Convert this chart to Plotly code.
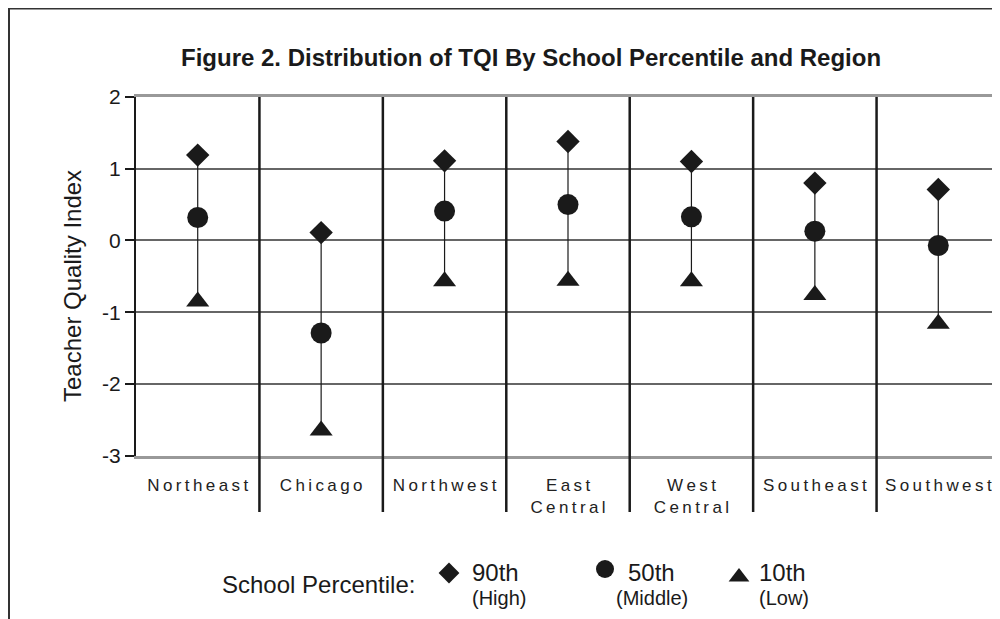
import plotly.graph_objects as go

# ---------------- data ----------------
regions = ["Northeast", "Chicago", "Northwest", "East<br>Central",
           "West<br>Central", "Southeast", "Southwest"]
p90_high = [1.19, 0.11, 1.11, 1.38, 1.10, 0.80, 0.71]
p50_mid = [0.32, -1.29, 0.41, 0.50, 0.33, 0.13, -0.07]
p10_low = [-0.85, -2.65, -0.57, -0.56, -0.57, -0.76, -1.16]
y_ticks = [2, 1, 0, -1, -2, -3]

title_text = "Figure 2. Distribution of TQI By School Percentile and Region"
y_title = "Teacher Quality Index"
legend_title = "School Percentile:"
legend_main = ["90th", "50th", "10th"]
legend_sub = ["(High)", "(Middle)", "(Low)"]

# ---------------- layout constants (screen px; page has an 8px body margin) ----------------
OFF = 8
W, H = 1000 - OFF, 619 - OFF
SL, SR, ST, SB = 136, 1000, 97, 455.7          # main plot area on screen
INK = "#1a1a1a"
FONT = "Liberation Sans, Arial, sans-serif"
NCAT = len(regions)


def px(xs):  # screen x -> paper (full figure)
    return (xs - OFF) / W


def py(ys):  # screen y -> paper (full figure)
    return (H + OFF - ys) / H


def spaced(label):
    return "<br>".join("\u2009".join(line) for line in label.split("<br>"))


xidx = list(range(NCAT))

fig = go.Figure()

# stems
sx, sy = [], []
for i, hi, lo in zip(xidx, p90_high, p10_low):
    sx += [i, i, None]
    sy += [hi, lo, None]
fig.add_trace(go.Scatter(x=sx, y=sy, mode="lines",
                         line=dict(color=INK, width=1.2), hoverinfo="skip",
                         showlegend=False))

fig.add_trace(go.Scatter(x=xidx, y=p90_high, mode="markers", name="90th",
                         marker=dict(symbol="diamond", size=18, color=INK),
                         showlegend=False))
fig.add_trace(go.Scatter(x=xidx, y=p50_mid, mode="markers", name="50th",
                         marker=dict(symbol="circle", size=21, color=INK),
                         showlegend=False))
fig.add_trace(go.Scatter(x=xidx, y=p10_low, mode="markers", name="10th",
                         marker=dict(symbol="triangle-up", size=20, color=INK),
                         showlegend=False))

# legend key markers on an invisible full-figure subplot measured in screen px
leg_x = [449, 605, 739]
leg_y = [573, 569, 577]
leg_sym = ["diamond", "circle", "triangle-up"]
leg_size = [16, 18, 18]
for lx, ly, sym, sz in zip(leg_x, leg_y, leg_sym, leg_size):
    fig.add_trace(go.Scatter(x=[lx], y=[ly], mode="markers", xaxis="x2", yaxis="y2",
                             marker=dict(symbol=sym, size=sz, color=INK),
                             showlegend=False, hoverinfo="skip"))

shapes = []
# category separators
for b in range(NCAT - 1):
    shapes.append(dict(type="line", xref="x", yref="paper", x0=b + 0.5, x1=b + 0.5,
                       y0=py(512), y1=py(ST), line=dict(color=INK, width=2.5),
                       layer="above"))
# outer frame
shapes.append(dict(type="rect", xref="paper", yref="paper",
                   x0=px(9), x1=px(1030), y0=py(650), y1=py(8.5),
                   line=dict(color="#333333", width=2)))

annotations = [
    dict(text="<b>" + title_text + "</b>", xref="paper", yref="paper",
         x=px(531), y=py(57), showarrow=False, xanchor="center", yanchor="middle",
         font=dict(size=24, color=INK, family=FONT)),
    dict(text=y_title, xref="paper", yref="paper", x=px(72), y=py(286),
         showarrow=False, textangle=-90, xanchor="center", yanchor="middle",
         font=dict(size=24, color=INK, family=FONT)),
    dict(text=legend_title, xref="paper", yref="paper", x=px(318), y=py(584),
         showarrow=False, xanchor="center", yanchor="middle",
         font=dict(size=24, color=INK, family=FONT)),
]
main_x = [470, 626, 757]
sub_x = [470, 614, 757]
for t, xm in zip(legend_main, main_x):
    annotations.append(dict(text=t, xref="paper", yref="paper", x=px(xm), y=py(572),
                            showarrow=False, xanchor="left", yanchor="middle",
                            font=dict(size=24, color=INK, family=FONT)))
for t, xs in zip(legend_sub, sub_x):
    annotations.append(dict(text=t, xref="paper", yref="paper", x=px(xs), y=py(598),
                            showarrow=False, xanchor="left", yanchor="middle",
                            font=dict(size=20, color=INK, family=FONT)))

fig.update_layout(
    width=W, height=H,
    margin=dict(l=0, r=0, t=0, b=0, autoexpand=False),
    paper_bgcolor="white", plot_bgcolor="rgba(0,0,0,0)",
    font=dict(family=FONT, color=INK),
    showlegend=False,
    shapes=shapes, annotations=annotations,
    xaxis=dict(domain=[px(SL), px(SR)], anchor="y",
               range=[-0.5, NCAT - 0.5], tickmode="array",
               tickvals=xidx, ticktext=[spaced(r) for r in regions],
               tickfont=dict(size=17, color="#222222", family=FONT),
               ticks="", ticklabelstandoff=12,
               showgrid=False, zeroline=False,
               showline=True, mirror=True, linecolor="#999999", linewidth=3),
    yaxis=dict(domain=[py(SB), py(ST)], anchor="x",
               range=[-3, 2], tickvals=y_ticks, ticktext=[str(v) for v in y_ticks],
               tickfont=dict(size=21, color=INK, family=FONT),
               ticks="outside", ticklen=9, tickwidth=1.5, tickcolor=INK,
               showgrid=True, gridcolor="#666666", gridwidth=1.5,
               zeroline=False, showline=True, linecolor=INK, linewidth=2),
    xaxis2=dict(domain=[0, 1], anchor="y2", range=[OFF, 1000], visible=False,
                fixedrange=True),
    yaxis2=dict(domain=[0, 1], anchor="x2", range=[619, OFF], visible=False,
                fixedrange=True),
)

fig.write_html("out.html")
